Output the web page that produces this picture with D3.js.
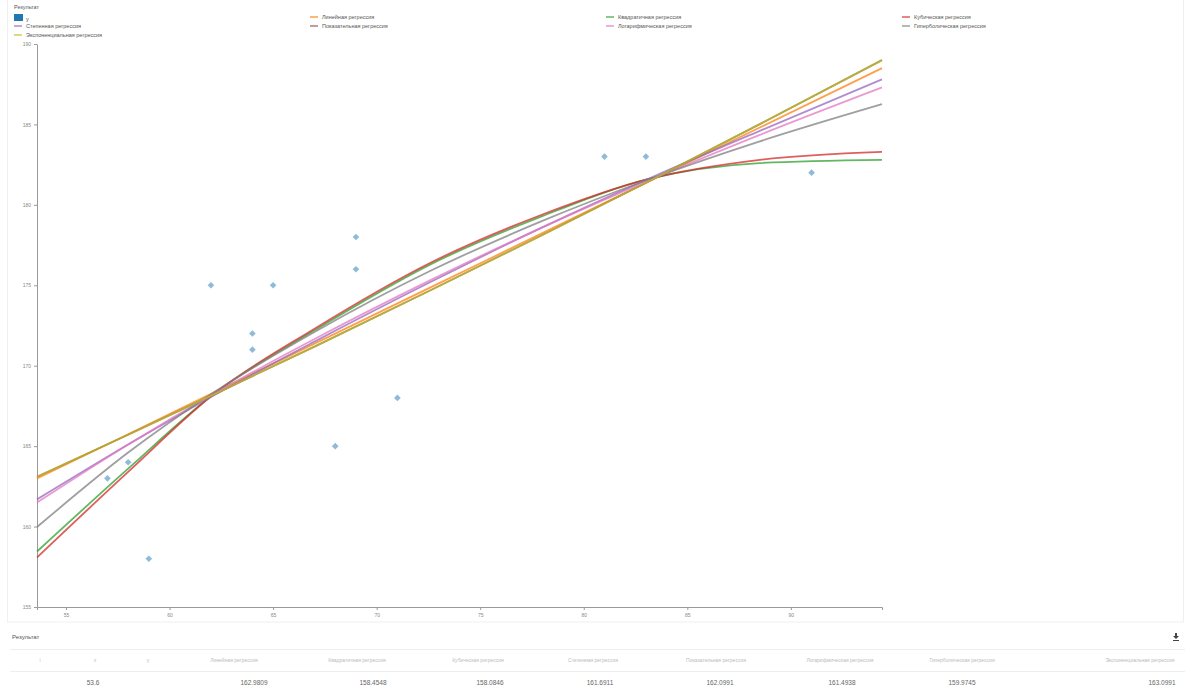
<!DOCTYPE html>
<html>
<head>
<meta charset="utf-8">
<script src="https://cdn.jsdelivr.net/npm/d3@7"></script>
<style>
  body { margin: 0; background: #fff; font-family: "Liberation Sans", Arial, sans-serif; }
  svg { display: block; }
</style>
</head>
<body>
<div id="chart"></div>
<script>
// observed points
const pointX = [57, 58, 59, 62, 64, 64, 65, 68, 69, 69, 71, 81, 83, 91];
const pointY = [163, 164, 158, 175, 172, 171, 175, 165, 178, 176, 168, 183, 183, 182];

// regression curves, read at these x
const regX = [53.6, 58, 62.2, 67, 72.6, 78, 83.1, 88.5, 94.4];
const linear      = [162.99, 165.74, 168.37, 171.37, 174.87, 178.24, 181.43, 184.81, 188.5];
const quadratic   = [158.45, 163.6, 168.3, 172.2, 176.3, 179.3, 181.6, 182.6, 182.8];
const cubic       = [158.08, 163.4, 168.3, 172.3, 176.4, 179.4, 181.6, 182.8, 183.3];
const power       = [161.69, 165.1, 168.2, 171.5, 175.2, 178.6, 181.6, 184.6, 187.8];
const indicative  = [163.1, 165.71, 168.25, 171.19, 174.69, 178.13, 181.44, 185.02, 189.0];
const logarithmic = [161.49, 165.1, 168.3, 171.66, 175.32, 178.6, 181.49, 184.35, 187.3];
const hyperbolic  = [159.97, 164.6, 168.4, 172.1, 175.9, 179.0, 181.56, 183.95, 186.26];
const exponential = [163.1, 165.71, 168.25, 171.19, 174.69, 178.13, 181.44, 185.02, 189.0];

const seriesNames = ["Линейная регрессия", "Квадратичная регрессия", "Кубическая регрессия",
  "Степенная регрессия", "Показательная регрессия", "Логарифмическая регрессия",
  "Гиперболическая регрессия", "Экспоненциальная регрессия"];
const seriesValues = [linear, quadratic, cubic, power, indicative, logarithmic, hyperbolic, exponential];

const xTicks = [55, 60, 65, 70, 75, 80, 85, 90];
const yTicks = [155, 160, 165, 170, 175, 180, 185, 190];

// table under chart
const tableHeaders = ["i", "x", "y"].concat(seriesNames);
const tableRow = ["", "53.6", "", "162.9809", "158.4548", "158.0846", "161.6911", "162.0991", "161.4938", "159.9745", "163.0991"];

const width = 1190, height = 689;
const colors = d3.schemeCategory10;

const svg = d3.select("#chart").append("svg")
  .attr("width", width)
  .attr("height", height);

// card outline
svg.append("rect")
  .attr("x", 7.5).attr("y", -2).attr("width", 1176).attr("height", 624)
  .attr("fill", "none").attr("stroke", "#f0f0f0");

const x = d3.scaleLinear().domain([53.6, 94.4]).range([37, 882]);
const y = d3.scaleLinear().domain([155, 190]).range([607, 44]);

// axes
const xAxis = svg.append("g")
  .attr("transform", "translate(0,607)")
  .call(d3.axisBottom(x).tickValues(xTicks).tickSize(3).tickSizeOuter(3));
const yAxis = svg.append("g")
  .attr("transform", "translate(37,0)")
  .call(d3.axisLeft(y).tickValues(yTicks).tickSize(3).tickSizeOuter(0));
[xAxis, yAxis].forEach(a => {
  a.select(".domain").attr("stroke", "#999");
  a.selectAll(".tick line").attr("stroke", "#999");
  a.selectAll("text").attr("fill", "#888").style("font-size", "5px")
    .style("font-family", "'Liberation Sans', Arial, sans-serif");
});

// regression lines
const line = d3.line()
  .x(d => x(d[0]))
  .y(d => y(d[1]))
  .curve(d3.curveMonotoneX);

seriesValues.forEach((vals, i) => {
  svg.append("path")
    .datum(regX.map((xv, j) => [xv, vals[j]]))
    .attr("fill", "none")
    .attr("stroke", colors[i + 1])
    .attr("stroke-opacity", 0.75)
    .attr("stroke-width", 1.8)
    .attr("d", line);
});

// points (square turned 45deg)
svg.selectAll(".dot")
  .data(pointX.map((xv, i) => [xv, pointY[i]]))
  .enter().append("path")
  .attr("class", "dot")
  .attr("d", d3.symbol(d3.symbolSquare, 22))
  .attr("transform", d => "translate(" + x(d[0]) + "," + y(d[1]) + ") rotate(45)")
  .attr("fill", colors[0])
  .attr("fill-opacity", 0.5);

// legend
const legend = svg.append("g").style("font-size", "5.5px").attr("fill", "#555");
legend.append("text").attr("x", 14).attr("y", 9).text("Результат");
const legendItems = [{ name: "y", color: colors[0], square: true }]
  .concat(seriesNames.map((n, i) => ({ name: n, color: colors[i + 1] })));
legendItems.forEach((d, i) => {
  const col = i % 4, row = Math.floor(i / 4);
  const lx = 14 + col * 296, ly = 19 + row * 9;
  if (d.square) {
    legend.append("rect").attr("x", lx).attr("y", ly - 5).attr("width", 9).attr("height", 7)
      .attr("fill", d.color);
    legend.append("text").attr("x", lx + 12).attr("y", ly + 1.5).text(d.name);
  } else {
    legend.append("line").attr("x1", lx).attr("x2", lx + 8).attr("y1", ly - 2).attr("y2", ly - 2)
      .attr("stroke", d.color).attr("stroke-opacity", 0.75).attr("stroke-width", 1.5);
    legend.append("text").attr("x", lx + 12).attr("y", ly).text(d.name);
  }
});

// results table
svg.append("text").attr("x", 12).attr("y", 639)
  .style("font-size", "6px").attr("fill", "#555").text("Результат");

// download icon
const icon = svg.append("g").attr("transform", "translate(1176,637)").attr("fill", "#444");
icon.append("path").attr("d", "M-1,-4 h2 v3 h2 l-3,3 l-3,-3 h2 z");
icon.append("rect").attr("x", -3).attr("y", 3).attr("width", 6).attr("height", 1);

svg.append("line").attr("x1", 10).attr("x2", 1185).attr("y1", 649.5).attr("y2", 649.5).attr("stroke", "#eee");
svg.append("line").attr("x1", 10).attr("x2", 1185).attr("y1", 671.5).attr("y2", 671.5).attr("stroke", "#eee");

const headerX = [40, 95, 148, 234, 357, 478, 593, 716, 840, 962, 1140];
const valueX = [40, 93, 148, 254, 373, 490, 600, 720, 842, 962, 1162];
svg.append("g").selectAll("text").data(tableHeaders).enter().append("text")
  .attr("x", (d, i) => headerX[i]).attr("y", 662)
  .attr("text-anchor", "middle").style("font-size", "5px").attr("fill", "#bbb")
  .text(d => d);
svg.append("g").selectAll("text").data(tableRow).enter().append("text")
  .attr("x", (d, i) => valueX[i]).attr("y", 685)
  .attr("text-anchor", "middle").style("font-size", "6.5px").attr("fill", "#666")
  .text(d => d);
</script>
</body>
</html>
